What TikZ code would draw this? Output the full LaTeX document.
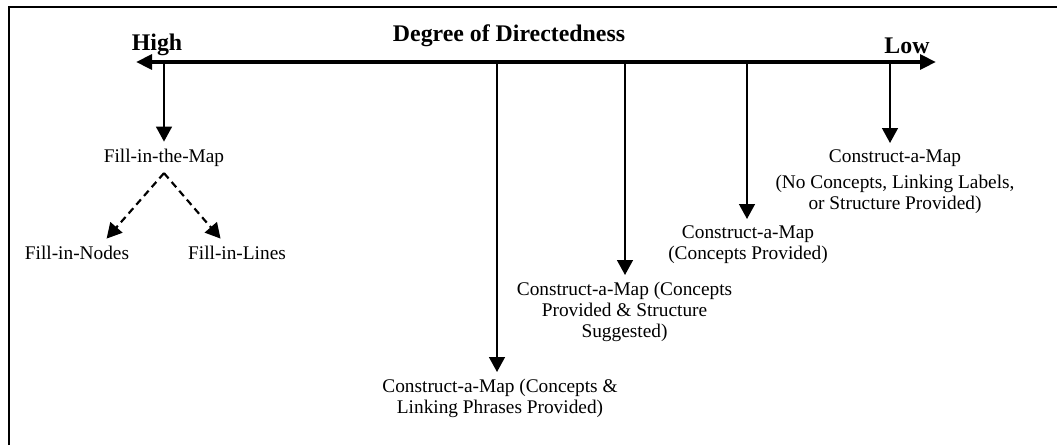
\documentclass[tikz,border=0pt]{standalone}
\usepackage{fontspec}
\setmainfont{Liberation Serif}
\usetikzlibrary{arrows.meta}
\begin{document}
\begin{tikzpicture}[x=0.6pt,y=-0.6pt,
  lbl/.style={font=\fontsize{11.6pt}{12.7pt}\selectfont,align=center,inner sep=4pt},
  hdr/.style={font=\fontsize{14.3pt}{16pt}\selectfont\bfseries,inner sep=0pt},
  down/.style={-{Triangle[length=9pt,width=9.5pt]},line width=1.2pt},
  hint/.style={down,line width=1.3pt,dash pattern=on 4.2pt off 2.8pt}]
\useasboundingbox (0,0) rectangle (1057,445);
% frame
\draw[line width=1.6pt] (9,445) -- (9,7) -- (1057,7);
% scale of directedness
\coordinate (hi) at (136,62);
\coordinate (lo) at (936,62);
\draw[line width=2.8pt,{Triangle[length=9.6pt,width=8.8pt]}-{Triangle[length=9.6pt,width=8.8pt]}] (hi) -- (lo);
\node[hdr,anchor=base] (high) at (157,50) {High};
\node[hdr,anchor=base] (title) at (509,41) {Degree of Directedness};
\node[hdr,anchor=base] (low) at (907,53) {Low};
\coordinate (t1) at (164,62);
\coordinate (t2) at (497,62);
\coordinate (t3) at (625,62);
\coordinate (t4) at (747,62);
\coordinate (t5) at (890,62);
% map tasks
\node[lbl,anchor=base] (fm) at (164,162) {Fill-in-the-Map};
\node[lbl,anchor=base] (fn) at (77,259) {Fill-in-Nodes};
\node[lbl,anchor=base] (fl) at (237,259) {Fill-in-Lines};
\node[lbl,anchor=north] (c2) at (500,372) {Construct-a-Map (Concepts \&\\Linking Phrases Provided)};
\node[lbl,anchor=north] (c3) at (624.5,275) {Construct-a-Map (Concepts\\Provided \& Structure\\Suggested)};
\node[lbl,anchor=north] (c4) at (748,219) {Construct-a-Map\\(Concepts Provided)};
\node[lbl,anchor=north] (c5) at (895,143) {Construct-a-Map\\[2.8pt](No Concepts, Linking Labels,\\or Structure Provided)};
\draw[down] (t1) -- (fm);
\draw[down] (t2) -- (t2 |- c2.north);
\draw[down] (t3) -- (t3 |- c3.north);
\draw[down] (t4) -- (t4 |- c4.north);
\draw[down] (t5) -- (t5 |- c5.north);
\draw[hint] (fm.south) -- (fn.25);
\draw[hint] (fm.south) -- (fl.140);
\end{tikzpicture}
\end{document}
